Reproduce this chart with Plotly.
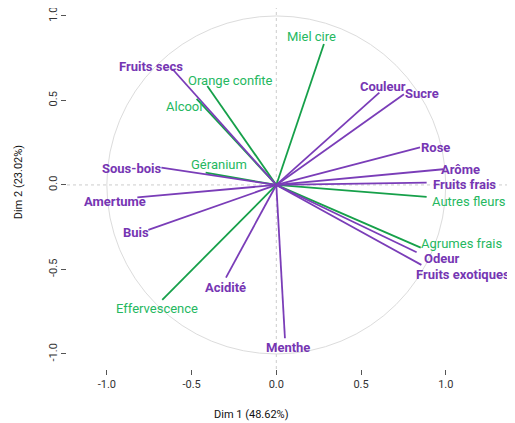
import plotly.graph_objects as go

# Variables (correlation circle, PCA dims 1 and 2)
names = ["Fruits secs", "Orange confite", "Alcool", "Géranium", "Sous-bois", "Amertume",
         "Buis", "Effervescence", "Acidité", "Menthe", "Miel cire", "Couleur", "Sucre",
         "Rose", "Arôme", "Fruits frais", "Autres fleurs", "Agrumes frais", "Odeur",
         "Fruits exotiques"]
dim1 = [-0.613, -0.407, -0.470, -0.417, -0.678, -0.820,
        -0.755, -0.673, -0.297, 0.051, 0.281, 0.608, 0.753,
        0.848, 0.985, 0.887, 0.887, 0.852, 0.828,
        0.856]
dim2 = [0.686, 0.586, 0.509, 0.073, 0.102, -0.073,
        -0.266, -0.680, -0.548, -0.907, 0.834, 0.546, 0.537,
        0.223, 0.093, 0.014, -0.071, -0.371, -0.398,
        -0.473]
group = ["active", "supp", "supp", "supp", "active", "active",
         "active", "supp", "active", "active", "supp", "active", "active",
         "active", "active", "active", "supp", "supp", "active",
         "active"]
x_ticks = [-1.0, -0.5, 0.0, 0.5, 1.0]
y_ticks = [-1.0, -0.5, 0.0, 0.5, 1.0]
x_title = "Dim 1 (48.62%)"
y_title = "Dim 2 (23.02%)"

# label offsets in pixels (dx right, dy down) relative to arrow end
label_dx = [-21, 23, -13, 13, -29, -22, -12, -5, 0, 3, -12, 4, 18, 15, 17, 38, 42, 41, 25, 42]
label_dy = [-3, -5, 8, -8, 1, 4, 3, 9, 10, 9, -8, -6, -1, 0, 0, 2, 5, -4, 6, 10]

PURPLE_LINE = "#7a3db8"
PURPLE_TEXT = "#7636b3"
GREEN_LINE = "#16a04a"
GREEN_TEXT = "#25b85f"

fig = go.Figure()

for g, col in (("supp", GREEN_LINE), ("active", PURPLE_LINE)):
    xs, ys = [], []
    for n, x, y, gg in zip(names, dim1, dim2, group):
        if gg == g:
            xs += [0, x, None]
            ys += [0, y, None]
    fig.add_trace(go.Scatter(x=xs, y=ys, mode="lines",
                             line=dict(color=col, width=1.8),
                             hoverinfo="skip", showlegend=False))

annotations = []
for n, x, y, g, dx, dy in zip(names, dim1, dim2, group, label_dx, label_dy):
    active = g == "active"
    annotations.append(dict(
        x=x, y=y, xref="x", yref="y", text=("<b>%s</b>" % n) if active else n,
        showarrow=False, xshift=dx, yshift=-dy,
        font=dict(family="Roboto", size=13 if active else 13,
                  color=PURPLE_TEXT if active else GREEN_TEXT)))

annotations.append(dict(x=0.4176, y=-0.125, xref="paper", yref="paper", text=x_title,
                        showarrow=False, xanchor="center", yanchor="middle",
                        font=dict(family="Roboto", size=11, color="#111")))
annotations.append(dict(x=-0.110, y=0.518, xref="paper", yref="paper", text=y_title,
                        showarrow=False, textangle=-90, xanchor="center", yanchor="middle",
                        font=dict(family="Roboto", size=11, color="#111")))

shapes = [
    dict(type="circle", xref="x", yref="y", x0=-1, y0=-1, x1=1, y1=1,
         line=dict(color="#dcdcdc", width=1), layer="below"),
    dict(type="line", xref="x", yref="paper", x0=0, x1=0, y0=0, y1=1,
         line=dict(color="#cccccc", width=1, dash="3px,3px"), layer="below"),
    dict(type="line", xref="paper", yref="y", x0=0, x1=1, y0=0, y1=0,
         line=dict(color="#cccccc", width=1, dash="3px,3px"), layer="below"),
]

# page body has an 8px default margin: figure is shrunk and margins shifted to compensate
fig.update_layout(
    width=507, height=415,
    margin=dict(l=59, r=5, t=0, b=54, autoexpand=False),
    paper_bgcolor="white", plot_bgcolor="white",
    annotations=annotations, shapes=shapes,
    xaxis=dict(range=[-1.235, 1.379], tickvals=x_ticks,
               ticktext=["%.1f" % v for v in x_ticks],
               showgrid=False, zeroline=False, showline=False, automargin=False,
               ticks="outside", ticklen=5, tickcolor="#555",
               ticklabeloverflow="allow",
               tickfont=dict(family="Roboto", size=11, color="#333")),
    yaxis=dict(range=[-1.089, 1.047], tickvals=y_ticks,
               ticktext=["%.1f" % v for v in y_ticks],
               showgrid=False, zeroline=False, showline=False, automargin=False,
               ticks="outside", ticklen=5, tickcolor="#555", tickangle=-90,
               ticklabeloverflow="allow",
               tickfont=dict(family="Roboto", size=11, color="#333")),
)

fig.write_html("out.html")
